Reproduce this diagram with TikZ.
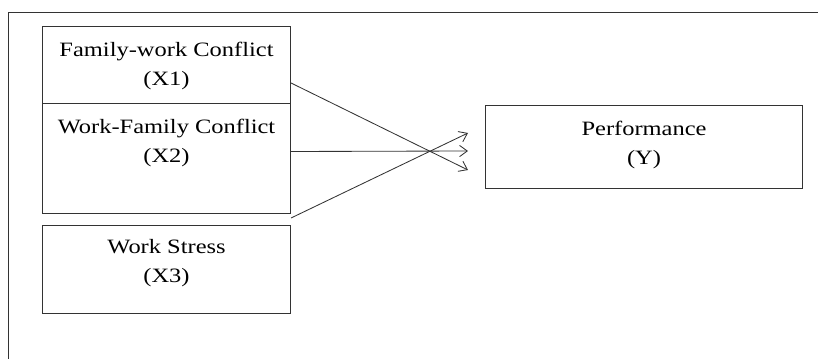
\documentclass[tikz,border=0pt]{standalone}
\usepackage{fontspec}
\setmainfont{Liberation Serif}[FakeStretch=1.2]
\usetikzlibrary{positioning}
\usetikzlibrary{calc}
\usetikzlibrary{arrows.meta}

\begin{document}
\begin{tikzpicture}[x=0.025cm, y=-0.025cm, >={Straight Barb[length=5.5pt,width=8pt]},
	varbox/.style={draw=black!80, line width=0.7pt, anchor=north west, inner sep=0pt},
	vartext/.style={inner sep=0pt, align=center, font=\fontsize{14.5}{20.6}\selectfont},
	arrline/.style={->, draw=black!80, line width=0.6pt}]
			\useasboundingbox (0,0) rectangle (818,359);
			%coordinates
			\coordinate (FrBL) at (8,359);
			\coordinate (FrTL) at (8,12);
			\coordinate (FrTR) at (818,12);
			
			\coordinate (EndA) at (468,170);
			\coordinate (EndB) at (468,151);
			\coordinate (EndC) at (468,133);
			
			%frame
			\draw[black!80, line width=0.7pt] (FrBL) -- (FrTL) -- (FrTR);
			
			%boxes
			\node[varbox, minimum width=6.2cm, minimum height=1.925cm] (fwc) at (42,26) {};
			\node[varbox, minimum width=6.2cm, minimum height=2.75cm] (wfc) at (42,103) {};
			\node[varbox, minimum width=6.2cm, minimum height=2.2cm] (ws) at (42,225) {};
			\node[varbox, minimum width=7.925cm, minimum height=2.075cm] (perf) at (485,105) {};
			
			%texts
			\node[vartext, below=11pt of fwc.north] (fwclab) {Family-work Conflict\\(X1)};
			\node[vartext, below=11pt of wfc.north] (wfclab) {Work-Family Conflict\\(X2)};
			\node[vartext, below=10pt of ws.north] (wslab) {Work Stress\\(X3)};
			\node[vartext, below=11pt of perf.north] (perflab) {Performance\\(Y)};
			
			%arrows
			\draw[arrline] ($(fwc.east)+(0,18)$) -- (EndA);
			\draw[arrline] ($(wfc.east)+(0,-7)$) -- (EndB);
			\draw[arrline] ($(ws.north east)+(0,-7)$) -- (EndC);
\end{tikzpicture}
\end{document}
